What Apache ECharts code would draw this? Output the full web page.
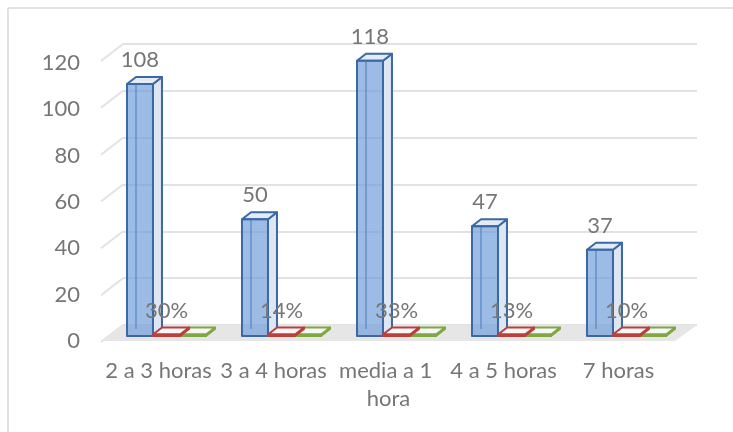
<!DOCTYPE html>
<html>
<head>
<meta charset="utf-8">
<script src="https://cdn.jsdelivr.net/npm/echarts@6/dist/echarts.min.js"></script>
<style>
  html, body { margin: 0; padding: 0; background: #fff; }
  #chart { width: 733px; height: 432px; }
</style>
</head>
<body>
<div id="chart"></div>
<script>
const categories = ['2 a 3 horas', '3 a 4 horas', 'media a 1 hora', '4 a 5 horas', '7 horas']
const counts = [108, 50, 118, 47, 37]
const shares = [0.30, 0.14, 0.33, 0.13, 0.10]
const third = [0, 0, 0, 0, 0]
const yTicks = [0, 20, 40, 60, 80, 100, 120]

const FONT = 'Lato, "Liberation Sans", sans-serif'
const TEXT = '#767676'
const GRIDLINE = '#e2e2e2'

// depth of a column and of the floor (perspective shift)
const BAR_DX = 9, BAR_DY = 7
const WALL_DX = 22, WALL_DY = 17

function boxRenderer(offset, widthFrac, look, fmt) {
  return function (params, api) {
    const i = api.value(0)
    const v = api.value(1)
    const base = api.coord([i, 0])
    const top = api.coord([i, v])
    const bw = api.size([1, 0])[0]
    const x0 = base[0] + offset * bw
    const w = widthFrac * bw
    const yb = base[1]
    const yt = Math.min(top[1], yb - 1.5)
    const stroke = { stroke: look.stroke, lineWidth: 2, lineJoin: 'round' }
    return {
      type: 'group',
      children: [
        { // back-left edge seen through the column
          type: 'line',
          shape: { x1: x0 + BAR_DX, y1: yb - BAR_DY, x2: x0 + BAR_DX, y2: yt - BAR_DY },
          style: { stroke: look.stroke, lineWidth: 1.5 }
        },
        {
          type: 'polygon',
          shape: { points: [[x0 + w, yb], [x0 + w + BAR_DX, yb - BAR_DY], [x0 + w + BAR_DX, yt - BAR_DY], [x0 + w, yt]] },
          style: Object.assign({ fill: look.side }, stroke)
        },
        {
          type: 'polygon',
          shape: { points: [[x0, yt], [x0 + BAR_DX, yt - BAR_DY], [x0 + w + BAR_DX, yt - BAR_DY], [x0 + w, yt]] },
          style: Object.assign({ fill: look.top }, stroke)
        },
        {
          type: 'rect',
          shape: { x: x0, y: yt, width: w, height: yb - yt },
          style: Object.assign({ fill: look.front }, stroke),
          textContent: fmt ? {
            style: { text: fmt(v), fill: TEXT, fontSize: 22, fontFamily: FONT }
          } : undefined,
          textConfig: fmt ? { position: 'top', distance: 12 } : undefined
        }
      ]
    }
  }
}

const chart = echarts.init(document.getElementById('chart'), null, { renderer: 'canvas' })

chart.setOption({
  animation: false,
  backgroundColor: '#fff',
  graphic: [
    { type: 'line', shape: { x1: 8, y1: 8, x2: 733, y2: 8 }, style: { stroke: '#d9d9d9', lineWidth: 1.5 } },
    { type: 'line', shape: { x1: 8, y1: 8, x2: 8, y2: 432 }, style: { stroke: '#d9d9d9', lineWidth: 1.5 } }
  ],
  grid: [
    // front plane: axis labels
    { left: 101, width: 575, top: 63, bottom: 91 },
    // back wall: gridlines and floor
    { left: 123, right: 36, top: 44, bottom: 107 },
    // column plane
    { left: 101, width: 575, top: 56, bottom: 96 }
  ],
  xAxis: [
    {
      gridIndex: 0, type: 'category', data: categories,
      axisLine: { show: false }, axisTick: { show: false },
      axisLabel: {
        interval: 0, color: TEXT, fontSize: 22, fontFamily: FONT,
        margin: 16, lineHeight: 28, width: 114, overflow: 'break'
      }
    },
    { gridIndex: 1, type: 'value', min: 0, max: 1, show: false },
    { gridIndex: 2, type: 'category', data: categories, show: false }
  ],
  yAxis: [
    {
      gridIndex: 0, type: 'value', min: 0, max: 120, interval: 20,
      axisLine: { show: false }, axisTick: { show: false }, splitLine: { show: false },
      axisLabel: { color: TEXT, fontSize: 22, fontFamily: FONT, margin: 21 }
    },
    {
      gridIndex: 1, type: 'value', min: 0, max: 120, interval: 20,
      axisLine: { show: false }, axisTick: { show: false }, axisLabel: { show: false },
      splitLine: { lineStyle: { color: GRIDLINE, width: 2 } }
    },
    { gridIndex: 2, type: 'value', min: 0, max: 120, show: false }
  ],
  series: [
    { // left wall lines
      type: 'custom', xAxisIndex: 1, yAxisIndex: 1, silent: true, z: 1,
      data: yTicks.map(t => [0, t]),
      renderItem: (params, api) => {
        const p = api.coord([0, api.value(1)])
        return {
          type: 'line',
          shape: { x1: p[0] - WALL_DX, y1: p[1] + WALL_DY, x2: p[0], y2: p[1] },
          style: { stroke: GRIDLINE, lineWidth: 2 }
        }
      }
    },
    { // floor
      type: 'custom', xAxisIndex: 1, yAxisIndex: 1, silent: true, z: 1,
      data: [[0, 0]],
      renderItem: (params, api) => {
        const a = api.coord([0, 0])
        const b = api.coord([1, 0])
        return {
          type: 'polygon',
          shape: { points: [[a[0], a[1]], [b[0], b[1]], [b[0] - WALL_DX, b[1] + WALL_DY - 1], [a[0] - WALL_DX, a[1] + WALL_DY - 1]] },
          style: { fill: '#e6e6e6' }
        }
      }
    },
    {
      name: 'Horas', type: 'custom', xAxisIndex: 2, yAxisIndex: 2, z: 3,
      data: counts.map((v, i) => [i, v]),
      renderItem: boxRenderer(-0.274, 0.226,
        { front: 'rgba(115,160,218,0.7)', side: '#dde6f1', top: '#e4ebf5', stroke: '#3b68a6' },
        v => String(v))
    },
    {
      name: 'Porcentaje', type: 'custom', xAxisIndex: 2, yAxisIndex: 2, z: 4,
      data: shares.map((v, i) => [i, v]),
      renderItem: boxRenderer(-0.048, 0.235,
        { front: '#f4f4f4', side: '#f4f4f4', top: '#f7f7f7', stroke: '#b9403c' },
        v => Math.round(v * 100) + '%')
    },
    {
      name: 'Otro', type: 'custom', xAxisIndex: 2, yAxisIndex: 2, z: 3,
      data: third.map((v, i) => [i, v]),
      renderItem: boxRenderer(0.187, 0.226,
        { front: '#f4f4f4', side: '#f4f4f4', top: '#f7f7f7', stroke: '#7fa840' },
        null)
    }
  ]
})
</script>
</body>
</html>
